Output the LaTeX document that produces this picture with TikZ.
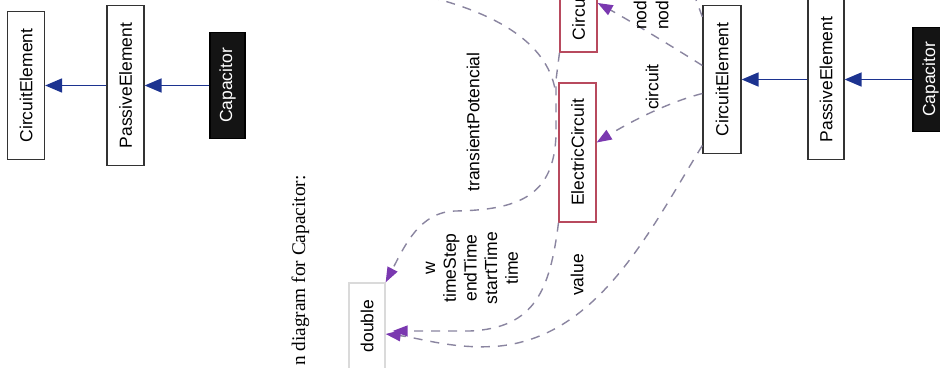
\documentclass[tikz,border=0pt]{standalone}
\usepackage{fontspec}
\setmainfont{Liberation Sans}
\newfontfamily\capfont{Liberation Serif}
\usetikzlibrary{arrows.meta,calc}
\definecolor{inhblue}{HTML}{1C3390}
\definecolor{usegray}{HTML}{8A85A0}
\definecolor{usepurple}{HTML}{7A38B0}
\definecolor{redborder}{HTML}{B84A5E}
\definecolor{lightborder}{HTML}{DADADA}
\begin{document}
\begin{tikzpicture}[x=1pt,y=-1pt,
  lbl/.style={font=\fontsize{17.5}{20.7}\selectfont, rotate=90, inner sep=0pt},
  cls/.style={lbl, draw=black!80, line width=1.3pt, fill=white, minimum height=37pt},
  redcls/.style={cls, draw=redborder},
  darkcls/.style={cls, fill=black!92, draw=black, text=white},
  plaincls/.style={cls, draw=lightborder},
  inh/.style={draw=inhblue, line width=1.8pt, -{Triangle[length=17pt,width=14pt]}},
  use/.style={draw=usegray, line width=1.4pt, dash pattern=on 9pt off 8pt, -{Triangle[length=15pt,width=11pt,color=usepurple]}},
  usel/.style={draw=usegray, line width=1.4pt, dash pattern=on 9pt off 8pt},
  edgelbl/.style={lbl, align=center}
]
\useasboundingbox (0,0) rectangle (940,367);
\fill[white] (0,0) rectangle (940,367);
\clip (0,0) rectangle (940,367);

% left group
\node[cls, minimum width=148pt] (ce1) at (26,85.5) {CircuitElement};
\node[cls, minimum width=160pt] (pe1) at (125.5,85.5) {PassiveElement};
\node[darkcls, minimum width=106pt, minimum height=35pt] (cap1) at (227.5,85.5) {Capacitor};
\draw[inh] (cap1) -- (pe1);
\draw[inh] (pe1) -- (ce1);

% caption
\node[rotate=90, anchor=base west, inner sep=0pt, font=\capfont\fontsize{19.3}{23}\selectfont] (caption) at (305,366) {n diagram for Capacitor:};

% middle
\node[plaincls, minimum width=86pt, minimum height=36pt] (dbl) at (367,326) {double};
\node[redcls, minimum width=139pt] (ec) at (577.5,152.5) {ElectricCircuit};
\node[redcls, text width=110pt, align=left, inner xsep=12pt, inner ysep=0pt] (circ) at (578.5,-15) {Circu};

% right group
\node[cls, minimum width=148pt, minimum height=38pt] (ce2) at (722,79.5) {CircuitElement};
\node[cls, minimum width=160pt, minimum height=36pt] (pe2) at (826,79.5) {PassiveElement};
\node[darkcls, minimum width=104pt, minimum height=35pt] (cap2) at (930.5,79.5) {Capacitor};
\draw[inh] (cap2) -- (pe2);
\draw[inh] (pe2) -- (ce2);

% usage edges
\coordinate (t0) at (430,-3);
\coordinate (j0) at (556,95);
\coordinate (t6) at (695,-3);
\draw[usel] (t0) .. controls (500,15) and (550,45) .. (j0);
\draw[usel] ($(ce2.north east)+(0,12)$) -- (t6);

\draw[use] ($(circ.west)+(-19,0)$) -- (556,80) -- (556,135)
  .. controls (554,195) and (520,210) .. (455,211)
  .. controls (420,212) and (405,245) .. (dbl.south east);
\draw[use, shorten >=7pt] ($(ec.west)+(-19,0)$)
  .. controls (550,290) and (535,328) .. (470,331) -- ($(dbl.south)+(0,5)$);
\draw[use] ($(ce2.north)+(0,66)$)
  .. controls (650,230) and (600,335) .. (500,346)
  .. controls (455,350) and (420,338) .. ($(dbl.south)+(0,8)$);
\draw[use] ($(ce2.north)+(0,14)$) .. controls (665,103) and (625,125) .. ($(ec.south)+(0,-10)$);
\draw[use] ($(ce2.north)+(0,-14)$) .. controls (665,42) and (625,18) .. ($(circ.south)+(0,18)$);

% edge labels
\node[edgelbl] (ltp) at (473,122) {transientPotencial};
\node[edgelbl] (lw) at (472,268) {w\\timeStep\\endTime\\startTime\\time};
\node[edgelbl] (lval) at (577,275) {value};
\node[edgelbl] (lcir) at (652,87) {circuit};
\node[lbl, anchor=west] (lnA) at (640,30) {nod};
\node[lbl, anchor=west] (lnB) at (662,30) {nod};
\end{tikzpicture}
\end{document}
